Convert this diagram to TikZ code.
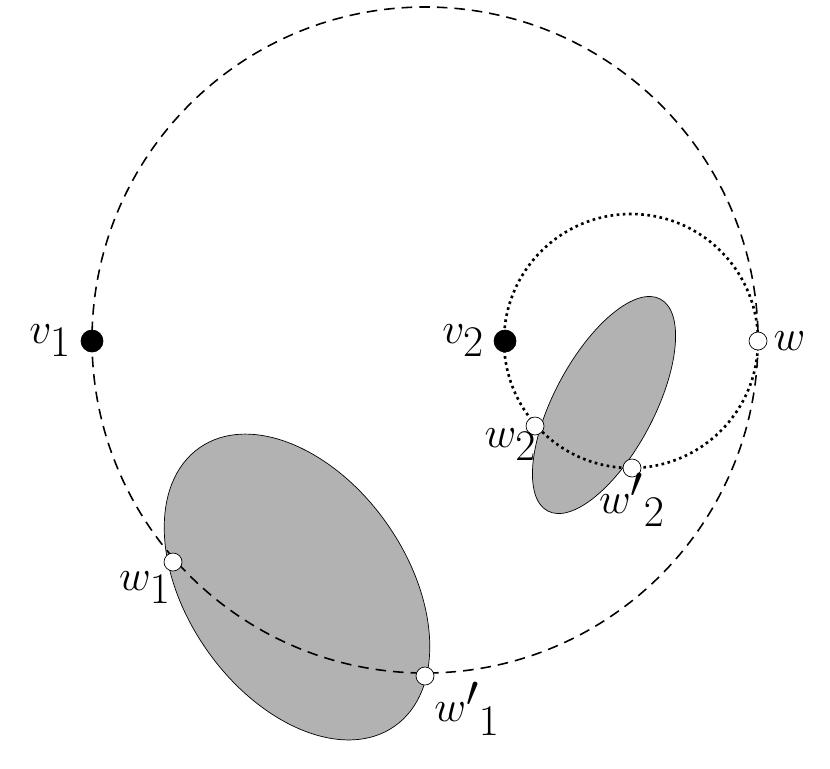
\documentclass[tikz,border=0pt]{standalone}
\usetikzlibrary{positioning}
\begin{document}
\begin{tikzpicture}[x=0.02cm, y=-0.02cm, font=\fontsize{35}{40}\selectfont,
  dot/.style={circle, draw, fill=black, inner sep=0pt, minimum size=0.44cm},
  hole/.style={circle, draw, fill=white, inner sep=0pt, minimum size=0.36cm}]
\useasboundingbox (0,0) rectangle (830,768);
\fill[gray!60] (297,587) ellipse[x radius=170, y radius=110, rotate=-55];
\draw (297,587) ellipse[x radius=170, y radius=110, rotate=-55];
\fill[gray!60] (604,405) ellipse[x radius=120, y radius=50, rotate=62];
\draw (604,405) ellipse[x radius=120, y radius=50, rotate=62];
\draw[dashed, line width=0.9pt, dash pattern=on 6pt off 4pt] (425,340) circle[radius=333];
\draw[dotted, line width=1.5pt] (631,341) circle[radius=127];
\node[dot] (v1) at (92,341) {};
\node[dot] (v2) at (505,341) {};
\node[hole] (w) at (758,341) {};
\node[hole] (w1) at (173,562) {};
\node[hole] (w1p) at (425,676) {};
\node[hole] (w2) at (535,426) {};
\node[hole] (w2p) at (632,468) {};
\node[left=2pt of v1] {$v_1$};
\node[left=2pt of v2] {$v_2$};
\node[right=0pt of w] {$w$};
\node[below left=-2pt and -6pt of w1] {$w_1$};
\node[below right=-4pt and -2pt of w1p] {$w'{}_1$};
\node[below left=-6pt and -8pt of w2] {$w_2$};
\node[below=-6pt of w2p] {$w'{}_2$};
\end{tikzpicture}
\end{document}
